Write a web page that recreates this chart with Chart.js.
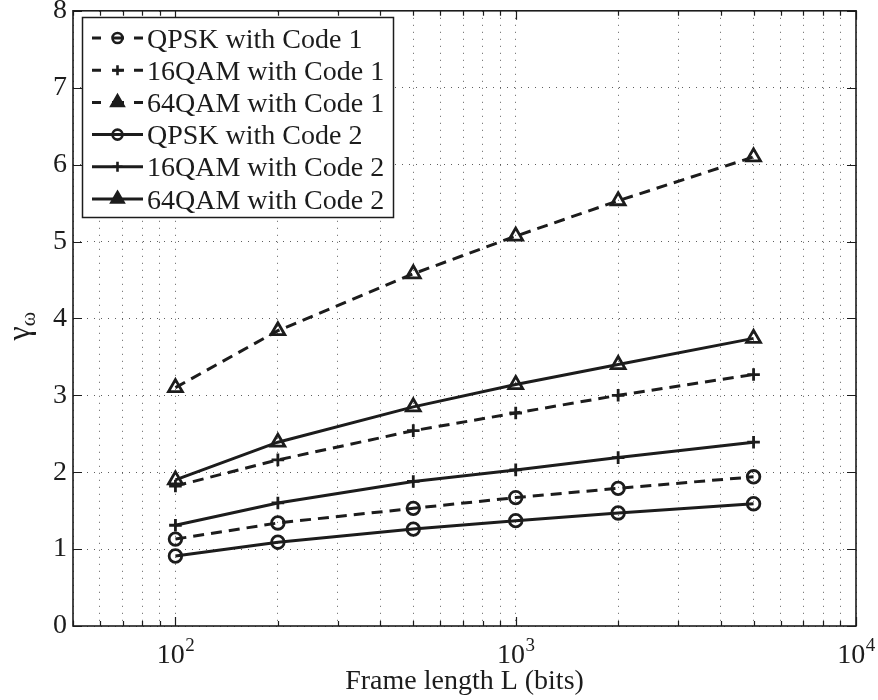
<!DOCTYPE html>
<html>
<head>
<meta charset="utf-8">
<title>Frame length vs gamma</title>
<script src="https://cdn.jsdelivr.net/npm/chart.js@4.4.1/dist/chart.umd.min.js"></script>
<style>
  html, body { margin: 0; padding: 0; background: #fff; }
  canvas { display: block; }
</style>
</head>
<body>
<canvas id="gamma-chart" width="878" height="700"></canvas>
<script>
// frame lengths (bits) and gamma_omega per scheme
const frameLengths = [100, 200, 500, 1000, 2000, 5000];
const qpskCode1  = [1.13, 1.34, 1.53, 1.67, 1.79, 1.94];
const qam16Code1 = [1.82, 2.16, 2.54, 2.77, 3.00, 3.27];
const qam64Code1 = [3.10, 3.84, 4.58, 5.07, 5.53, 6.10];
const qpskCode2  = [0.91, 1.09, 1.26, 1.37, 1.47, 1.59];
const qam16Code2 = [1.31, 1.60, 1.88, 2.03, 2.19, 2.39];
const qam64Code2 = [1.90, 2.39, 2.85, 3.14, 3.40, 3.74];

const seriesNames = [
  "QPSK with Code 1", "16QAM with Code 1", "64QAM with Code 1",
  "QPSK with Code 2", "16QAM with Code 2", "64QAM with Code 2"
];

const xGridValues = [50, 60, 70, 80, 90, 100, 200, 300, 400, 500, 600, 700, 800, 900,
  1000, 2000, 3000, 4000, 5000, 6000, 7000, 8000, 9000, 10000];
const xPowers = [2, 3, 4];
const yTickValues = [0, 1, 2, 3, 4, 5, 6, 7, 8];

const INK = "#1c1c1c";
const SERIF = "'Liberation Serif', 'Times New Roman', serif";
const FONT_PX = 28;

function series(label, values, style, dashed) {
  return {
    label,
    data: frameLengths.map((x, i) => ({ x, y: values[i] })),
    borderColor: INK,
    borderWidth: 3,
    borderDash: dashed ? [11, 7] : [],
    pointStyle: style,
    pointRadius: style === "triangle" ? 8 : 6.3,
    pointBorderWidth: 2.8,
    pointBorderColor: INK,
    pointBackgroundColor: "rgba(0,0,0,0)",
    tension: 0,
    fill: false
  };
}

const datasets = [
  series(seriesNames[0], qpskCode1, "circle", true),
  series(seriesNames[1], qam16Code1, "cross", true),
  series(seriesNames[2], qam64Code1, "triangle", true),
  series(seriesNames[3], qpskCode2, "circle", false),
  series(seriesNames[4], qam16Code2, "cross", false),
  series(seriesNames[5], qam64Code2, "triangle", false)
];

// frame, inward ticks, log labels, axis titles and the boxed legend
const decorations = {
  id: "decorations",
  afterDraw(chart) {
    const { ctx, chartArea: a, scales } = chart;
    const xs = scales.x, ys = scales.y;
    ctx.save();

    // inward tick marks on all four sides
    ctx.strokeStyle = INK;
    ctx.lineWidth = 1.2;
    ctx.setLineDash([]);
    xGridValues.forEach(v => {
      const px = Math.round(xs.getPixelForValue(v)) + 0.5;
      const len = [100, 1000, 10000].includes(v) ? 9 : 5;
      ctx.beginPath();
      ctx.moveTo(px, a.bottom); ctx.lineTo(px, a.bottom - len);
      ctx.moveTo(px, a.top); ctx.lineTo(px, a.top + len);
      ctx.stroke();
    });
    yTickValues.forEach(v => {
      const py = Math.round(ys.getPixelForValue(v)) + 0.5;
      ctx.beginPath();
      ctx.moveTo(a.left, py); ctx.lineTo(a.left + 9, py);
      ctx.moveTo(a.right, py); ctx.lineTo(a.right - 9, py);
      ctx.stroke();
    });

    // axes box
    ctx.lineWidth = 1.6;
    ctx.strokeRect(a.left, a.top, a.right - a.left, a.bottom - a.top);

    // x tick labels 10^n
    ctx.fillStyle = INK;
    ctx.textBaseline = "alphabetic";
    xPowers.forEach(p => {
      const px = xs.getPixelForValue(Math.pow(10, p));
      ctx.font = FONT_PX + "px " + SERIF;
      const wBase = ctx.measureText("10").width;
      ctx.font = "19px " + SERIF;
      const wExp = ctx.measureText(String(p)).width;
      const start = px - (wBase + wExp) / 2;
      ctx.font = FONT_PX + "px " + SERIF;
      ctx.textAlign = "left";
      ctx.fillText("10", start, 663);
      ctx.font = "19px " + SERIF;
      ctx.fillText(String(p), start + wBase + 0.5, 651);
    });

    // x axis title
    ctx.font = FONT_PX + "px " + SERIF;
    ctx.textAlign = "center";
    ctx.fillText("Frame length L (bits)", (a.left + a.right) / 2, 689);

    // y axis title: gamma with omega subscript
    ctx.save();
    ctx.translate(29, (a.top + a.bottom) / 2 + 8);
    ctx.rotate(-Math.PI / 2);
    ctx.textAlign = "left";
    ctx.font = "32px " + SERIF;
    ctx.fillText("\u03B3", -14, 0);
    const gw = ctx.measureText("\u03B3").width;
    ctx.font = "22px " + SERIF;
    ctx.fillText("\u03C9", -14 + gw, 6);
    ctx.restore();

    // legend
    const box = { left: 82, top: 17, right: 393, bottom: 217 };
    ctx.fillStyle = "#fff";
    ctx.fillRect(box.left, box.top, box.right - box.left, box.bottom - box.top);
    ctx.strokeStyle = INK;
    ctx.lineWidth = 1.5;
    ctx.strokeRect(box.left + 0.5, box.top + 0.5, box.right - box.left, box.bottom - box.top);

    chart.data.datasets.forEach((ds, i) => {
      const cy = 38 + i * 32.2;
      ctx.strokeStyle = INK;
      ctx.lineWidth = 3;
      ctx.setLineDash([]);
      ctx.beginPath();
      if (ds.borderDash.length) {
        [[92, 101], [112, 124], [134, 143]].forEach(([x0, x1]) => {
          ctx.moveTo(x0, cy); ctx.lineTo(x1, cy);
        });
      } else {
        ctx.moveTo(92, cy); ctx.lineTo(143, cy);
      }
      ctx.stroke();

      ctx.lineWidth = 2.6;
      ctx.fillStyle = ds.pointStyle === "triangle" ? INK : "rgba(0,0,0,0)";
      Chart.helpers.drawPoint(ctx, {
        pointStyle: ds.pointStyle,
        radius: ds.pointStyle === "triangle" ? 7 : 5,
        rotation: 0,
        borderWidth: 2.6
      }, 117.5, cy);

      ctx.fillStyle = INK;
      ctx.font = FONT_PX + "px " + SERIF;
      ctx.textAlign = "left";
      ctx.textBaseline = "alphabetic";
      ctx.fillText(ds.label, 147, cy + 9.5);
    });

    ctx.restore();
  }
};

const ctx = document.getElementById("gamma-chart").getContext("2d");
new Chart(ctx, {
  type: "line",
  data: { datasets },
  options: {
    responsive: false,
    animation: false,
    layout: { padding: { left: 0, top: 8, right: 22, bottom: 0 } },
    plugins: {
      legend: { display: false },
      tooltip: { enabled: false }
    },
    scales: {
      x: {
        type: "logarithmic",
        min: 50,
        max: 10000,
        afterBuildTicks: s => { s.ticks = xGridValues.map(v => ({ value: v })); },
        afterFit: s => { s.height = 74; s.paddingLeft = 0; s.paddingRight = 0; },
        ticks: { display: false, autoSkip: false },
        grid: { color: "rgba(40,40,40,0.75)", lineWidth: 1, drawTicks: false, tickLength: 0 },
        border: { display: false, dash: [1, 6] }
      },
      y: {
        min: 0,
        max: 8,
        afterBuildTicks: s => { s.ticks = yTickValues.map(v => ({ value: v })); },
        afterFit: s => { s.width = 73; s.paddingTop = 0; s.paddingBottom = 0; },
        ticks: {
          color: INK,
          padding: 6,
          font: { family: SERIF, size: FONT_PX }
        },
        grid: { color: "rgba(40,40,40,0.75)", lineWidth: 1, drawTicks: false, tickLength: 0 },
        border: { display: false, dash: [1, 6] }
      }
    }
  },
  plugins: [decorations]
});
</script>
</body>
</html>
